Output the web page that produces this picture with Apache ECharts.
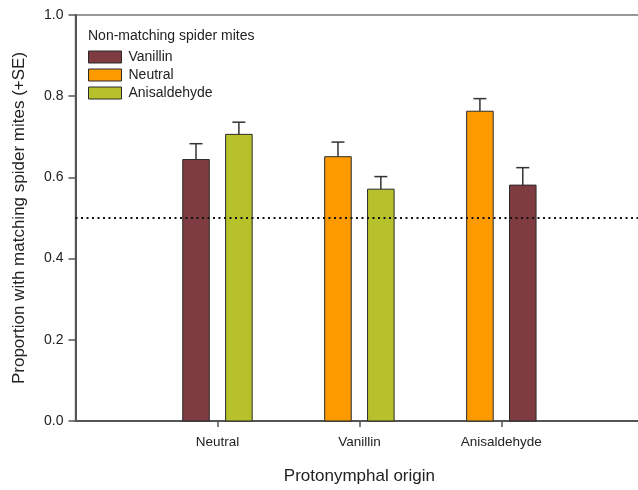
<!DOCTYPE html>
<html>
<head>
<meta charset="utf-8">
<script src="https://cdn.jsdelivr.net/npm/echarts@6/dist/echarts.min.js"></script>
<style>
html,body{margin:0;padding:0;background:#fff;overflow:hidden;}
#chart{width:644px;height:490px;}
</style>
</head>
<body>
<div id="chart"></div>
<script>
// Categories on the x axis (protonymphal origin)
var categories = ['Neutral', 'Vanillin', 'Anisaldehyde'];
// Non-matching spider mite groups (legend order)
var seriesNames = ['Vanillin', 'Neutral', 'Anisaldehyde'];
// Means per category (null = not present)
var vanillinMean = [0.644, null, 0.581];
var neutralMean = [null, 0.651, 0.763];
var anisaldehydeMean = [0.706, 0.571, null];
// Standard errors per category
var vanillinSE = [0.039, null, 0.043];
var neutralSE = [null, 0.036, 0.031];
var anisaldehydeSE = [0.030, 0.031, null];
// Y tick values
var yTicks = [0, 0.2, 0.4, 0.6, 0.8, 1.0];
var referenceLevel = 0.5;

var colors = {Vanillin: '#7e3c40', Neutral: '#fd9a00', Anisaldehyde: '#b7c12c'};
var means = {Vanillin: vanillinMean, Neutral: neutralMean, Anisaldehyde: anisaldehydeMean};
var ses = {Vanillin: vanillinSE, Neutral: neutralSE, Anisaldehyde: anisaldehydeSE};
// order of bars inside a group
var withinOrder = ['Neutral', 'Vanillin', 'Anisaldehyde'];

function sideOf(name, ci) {
  var present = withinOrder.filter(function (n) { return means[n][ci] != null; });
  var idx = present.indexOf(name);
  return idx === 0 ? -1 : 1;
}

var OFFSET = 0.151, BARW = 0.187, CAPW = 13;

function renderItem(params, api) {
  var x = api.value(0), m = api.value(1), se = api.value(2), side = api.value(3);
  var cx = x + side * OFFSET;
  var top = api.coord([cx, m]);
  var base = api.coord([cx, 0]);
  var errTop = api.coord([cx, m + se]);
  var w = api.size([BARW, 0])[0];
  var fill = api.visual('color');
  return {
    type: 'group',
    children: [
      {type: 'line', shape: {x1: top[0], y1: top[1], x2: errTop[0], y2: errTop[1]},
       style: {stroke: '#333', lineWidth: 1.5}},
      {type: 'line', shape: {x1: errTop[0] - CAPW / 2, y1: errTop[1], x2: errTop[0] + CAPW / 2, y2: errTop[1]},
       style: {stroke: '#333', lineWidth: 1.5}},
      {type: 'rect', shape: {x: top[0] - w / 2, y: top[1], width: w, height: base[1] - top[1]},
       style: {fill: fill, stroke: '#2a2a2a', lineWidth: 1}}
    ]
  };
}

var series = seriesNames.map(function (name) {
  var data = [];
  means[name].forEach(function (m, ci) {
    if (m != null) data.push([ci + 1, m, ses[name][ci], sideOf(name, ci)]);
  });
  return {
    name: name, type: 'custom', renderItem: renderItem,
    itemStyle: {color: colors[name]},
    encode: {x: 0, y: 1},
    data: data
  };
});

series.push({
  type: 'line', name: 'ref', data: [], silent: true,
  markLine: {
    silent: true, symbol: 'none', label: {show: false},
    lineStyle: {color: '#111', type: [2, 3.5], width: 2},
    data: [{yAxis: referenceLevel}]
  }
});

var chart = echarts.init(document.getElementById('chart'));
chart.setOption({
  animation: false,
  backgroundColor: '#fff',
  textStyle: {fontFamily: 'Liberation Sans, Arial, sans-serif'},
  title: {
    text: 'Non-matching spider mites', left: 83, top: 24,
    textStyle: {fontSize: 14, fontWeight: 'normal', color: '#222', fontFamily: 'Liberation Sans, Arial, sans-serif'}
  },
  legend: {
    data: seriesNames, orient: 'vertical', left: 83, top: 45,
    icon: 'rect', itemWidth: 33, itemHeight: 12, itemGap: 4,
    itemStyle: {borderColor: '#2a2a2a', borderWidth: 1},
    textStyle: {fontSize: 14, color: '#222', padding: [0, 0, 0, 2]}
  },
  grid: {
    left: 75.5, top: 15, bottom: 67.5, right: 0.7,
    show: true, borderColor: '#777', borderWidth: 1.5, backgroundColor: 'transparent'
  },
  xAxis: {
    type: 'value', min: 0, max: 4,
    name: 'Protonymphal origin', nameLocation: 'middle', nameGap: 47,
    nameTextStyle: {fontSize: 17, color: '#222'},
    axisLine: {show: true, onZero: false, lineStyle: {color: '#555', width: 2}},
    axisTick: {show: true, length: 6, customValues: [1, 2, 3], lineStyle: {color: '#555', width: 1.5}},
    axisLabel: {
      show: true, margin: 14, fontSize: 13.5, color: '#222', customValues: [1, 2, 3],
      formatter: function (v) { return categories[Math.round(v) - 1] || ''; }
    },
    splitLine: {show: false}
  },
  yAxis: {
    type: 'value', min: 0, max: 1, interval: 0.2,
    name: 'Proportion with matching spider mites (+SE)', nameLocation: 'middle', nameGap: 48,
    nameTextStyle: {fontSize: 17, color: '#222'},
    axisLine: {show: true, lineStyle: {color: '#555', width: 2}},
    axisTick: {show: true, length: 7, lineStyle: {color: '#555', width: 1.5}},
    axisLabel: {
      margin: 12, fontSize: 14, color: '#222',
      formatter: function (v) { return v.toFixed(1); }
    },
    splitLine: {show: false}
  },
  series: series
});
</script>
</body>
</html>
